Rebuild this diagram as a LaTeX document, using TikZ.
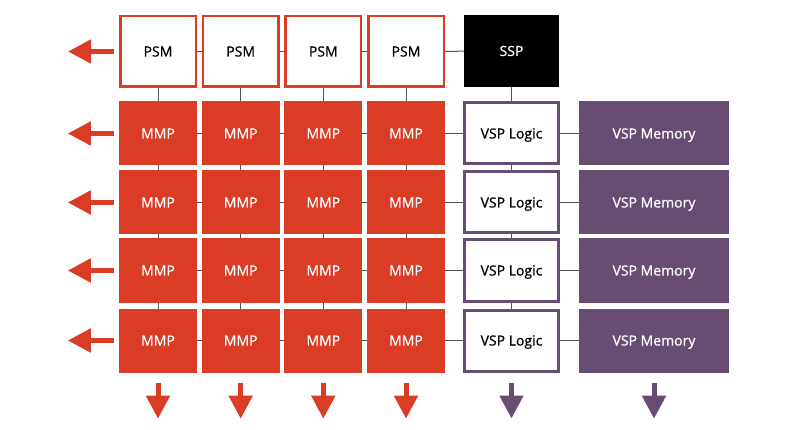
\documentclass[tikz,border=0pt]{standalone}
\usepackage{fontspec}
\setmainfont{Open Sans}
\newfontfamily\labelfont{Open Sans}[FakeBold=0.7]
\usetikzlibrary{arrows.meta,backgrounds}
\definecolor{mred}{RGB}{218,60,38}
\definecolor{mpurple}{RGB}{104,77,114}
\definecolor{mline}{RGB}{85,85,85}
\tikzset{
  box/.style={inner sep=0pt, minimum height=64pt, text height=10pt, text depth=0pt, font=\labelfont\fontsize{14}{16}\selectfont},
  psmbox/.style={box, draw=mred, line width=2.5pt, fill=white, minimum width=75.5pt, minimum height=70.5pt, text=black},
  mmpbox/.style={box, fill=mred, minimum width=78pt, text=white},
  sspbox/.style={box, fill=black, minimum width=95pt, minimum height=72pt, text=white},
  logicbox/.style={box, draw=mpurple, line width=3pt, fill=white, minimum width=94pt, minimum height=61pt, text=black},
  membox/.style={box, fill=mpurple, minimum width=150pt, text=white},
  link/.style={draw=mline, line width=1pt},
  bigarrow/.style={line width=5pt, -{Triangle[width=23pt,length=23pt]}},
}
\begin{document}
\begin{tikzpicture}[x=1pt,y=-1pt]
\useasboundingbox (0,0) rectangle (800,430);
% PSM row
\foreach \i/\x in {1/158,2/240.7,3/323.3,4/406}{
  \node[psmbox] (psm\i) at (\x,51.5) {PSM};
}
\node[sspbox] (ssp) at (511.5,51) {SSP};
% MMP rows
\foreach \r/\y in {1/133.5,2/202.5,3/270.5,4/340.5}{
  \foreach \i/\x in {1/158,2/240.7,3/323.3,4/406}{
    \node[mmpbox] (m\r\i) at (\x,\y) {MMP};
  }
  \node[logicbox] (lg\r) at (511.5,\y) {VSP Logic};
  \node[membox] (mem\r) at (654,\y) {VSP Memory};
}
% connectors
\begin{scope}[on background layer]
\foreach \i/\j in {1/2,2/3,3/4}{ \draw[link] (psm\i.center) -- (psm\j.center); }
\draw[link] (psm4.center) -- (ssp.center);
\foreach \i in {1,2,3,4}{ \draw[link] (psm\i.center) -- (m1\i.center); }
\draw[link] (ssp.center) -- (lg1.center);
\foreach \r/\s in {1/2,2/3,3/4}{
  \foreach \i in {1,2,3,4}{ \draw[link] (m\r\i.center) -- (m\s\i.center); }
  \draw[link] (lg\r.center) -- (lg\s.center);
}
\foreach \r in {1,2,3,4}{
  \foreach \i/\j in {1/2,2/3,3/4}{ \draw[link] (m\r\i.center) -- (m\r\j.center); }
  \draw[link] (m\r4.center) -- (lg\r.center);
  \draw[link] (lg\r.center) -- (mem\r.center);
}
\end{scope}
% left arrows
\path (psm1.west) ++(-5,0) coordinate (spsm) (psm1.west) ++(-51,0) coordinate (epsm);
\draw[bigarrow, mred] (spsm) -- (epsm);
\foreach \r in {1,2,3,4}{
  \path (m\r1.west) ++(-5,0) coordinate (s\r) (m\r1.west) ++(-51,0) coordinate (e\r);
  \draw[bigarrow, mred] (s\r) -- (e\r);
}
% down arrows
\foreach \i in {1,2,3,4}{
  \path (m4\i.south) ++(0,10) coordinate (ds\i) (m4\i.south) ++(0,46) coordinate (de\i);
  \draw[bigarrow, mred] (ds\i) -- (de\i);
}
\path (lg4.south) ++(0,10) coordinate (dsl) (lg4.south) ++(0,46) coordinate (del);
\draw[bigarrow, mpurple] (dsl) -- (del);
\path (mem4.south) ++(0,10) coordinate (dsm) (mem4.south) ++(0,46) coordinate (dem);
\draw[bigarrow, mpurple] (dsm) -- (dem);
\end{tikzpicture}
\end{document}
